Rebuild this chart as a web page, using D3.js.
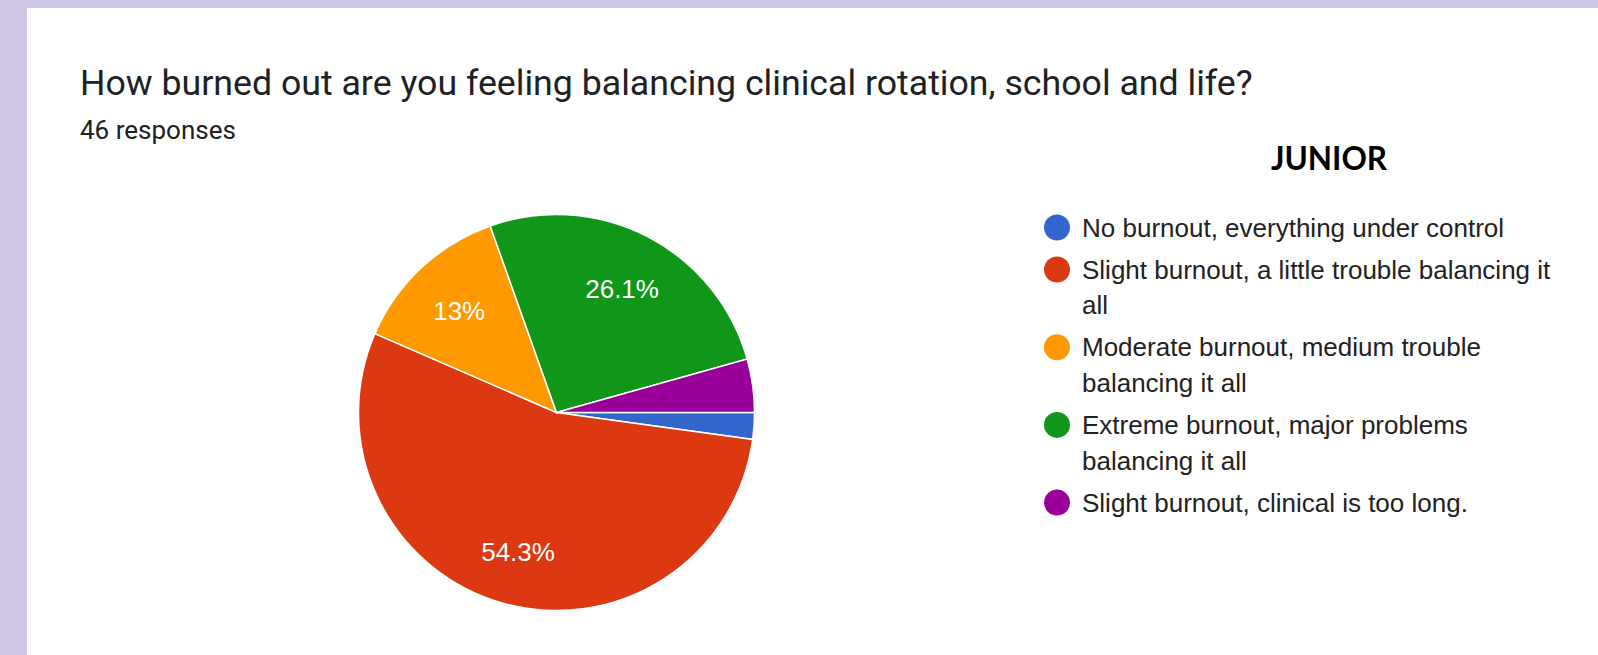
<!DOCTYPE html>
<html>
<head>
<meta charset="utf-8">
<script src="https://cdnjs.cloudflare.com/ajax/libs/d3/7.8.5/d3.min.js"></script>
<style>
  html, body { margin: 0; padding: 0; background: #ffffff; }
  svg { display: block; }
</style>
</head>
<body>
<svg id="chart" width="1598" height="655"></svg>
<script>
// survey answers, in the order google draws them (clockwise from 3 o'clock)
const answers = ["No burnout, everything under control",
                 "Slight burnout, a little trouble balancing it all",
                 "Moderate burnout, medium trouble balancing it all",
                 "Extreme burnout, major problems balancing it all",
                 "Slight burnout, clinical is too long."],
    counts = [1, 25, 6, 12, 2],
    labels = ["", "54.3%", "13%", "26.1%", ""],
    colors = ["#3366cc", "#dc3912", "#ff9900", "#109618", "#990099"],
    title = "How burned out are you feeling balancing clinical rotation, school and life?",
    subtitle = "46 responses",
    tag = "JUNIOR";

var svg = d3.select("#chart"),
    W = 1598, H = 655,
    cx = 556.5, cy = 412.5, radius = 198;

// lavender frame on top and left
svg.append("rect").attr("width", W).attr("height", H).attr("fill", "#cec6e4");
svg.append("rect").attr("x", 27).attr("y", 8).attr("width", W - 27).attr("height", H - 8).attr("fill", "#ffffff");

svg.append("text")
    .attr("x", 80).attr("y", 95)
    .attr("font-family", "Roboto, sans-serif")
    .attr("font-size", 35.7)
    .attr("fill", "#202124")
    .text(title);

svg.append("text")
    .attr("x", 80).attr("y", 139)
    .attr("font-family", "Roboto, sans-serif")
    .attr("font-size", 26)
    .attr("fill", "#202124")
    .text(subtitle);

svg.append("text")
    .attr("x", 1329).attr("y", 169.5)
    .attr("text-anchor", "middle")
    .attr("font-family", "Lato, sans-serif")
    .attr("font-weight", "bold")
    .attr("font-size", 31.5)
    .attr("fill", "#000000")
    .text(tag);

var pie = d3.pie().sort(null)
    .startAngle(Math.PI / 2)
    .endAngle(Math.PI / 2 + 2 * Math.PI);

var arc = d3.arc().innerRadius(0).outerRadius(radius),
    labelArc = d3.arc().innerRadius(radius * 0.72).outerRadius(radius * 0.72);

var g = svg.append("g").attr("transform", "translate(" + cx + "," + cy + ")");

var slices = pie(counts);

g.selectAll(".slice")
    .data(slices)
    .enter().append("path")
    .attr("class", "slice")
    .attr("d", arc)
    .attr("fill", function(d, i) { return colors[i]; })
    .attr("stroke", "#ffffff")
    .attr("stroke-width", 1.5);

g.selectAll(".pct")
    .data(slices)
    .enter().append("text")
    .attr("class", "pct")
    .attr("transform", function(d) { return "translate(" + labelArc.centroid(d) + ")"; })
    .attr("text-anchor", "middle")
    .attr("dy", "0.45em")
    .attr("font-family", "Arial, 'Liberation Sans', sans-serif")
    .attr("font-size", 26)
    .attr("fill", "#ffffff")
    .text(function(d, i) { return labels[i]; });

// legend, wrapped like the google forms one
var legend = svg.append("g").attr("transform", "translate(1057,0)"),
    maxW = 490, lineGap = 35.7, itemGap = 42, y = 227.5;

answers.forEach(function(a, i) {
    var item = legend.append("g");
    item.append("circle")
        .attr("cx", 0).attr("cy", y)
        .attr("r", 13)
        .attr("fill", colors[i]);
    var txt = item.append("text")
        .attr("font-family", "Arial, 'Liberation Sans', sans-serif")
        .attr("font-size", 26)
        .attr("fill", "#222222");
    var words = a.split(" "), line = [], n = 0,
        tspan = txt.append("tspan").attr("x", 25).attr("y", y).attr("dy", "0.35em");
    words.forEach(function(w) {
        line.push(w);
        tspan.text(line.join(" "));
        if (tspan.node().getComputedTextLength() > maxW && line.length > 1) {
            line.pop();
            tspan.text(line.join(" "));
            line = [w];
            n++;
            tspan = txt.append("tspan").attr("x", 25).attr("y", y + n * lineGap).attr("dy", "0.35em").text(w);
        }
    });
    y += n * lineGap + itemGap;
});
</script>
</body>
</html>
